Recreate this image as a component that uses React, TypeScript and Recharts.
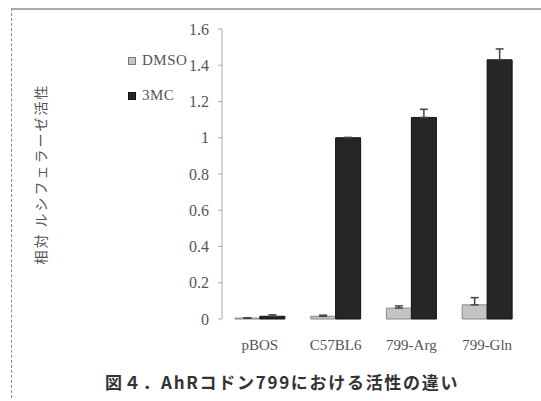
import { Bar, BarChart, ErrorBar, XAxis, YAxis, Legend } from 'recharts'

const categories = ['pBOS', 'C57BL6', '799-Arg', '799-Gln']
const dmso = [0.005, 0.015, 0.06, 0.078]
const dmsoErr = [0.002, 0.006, 0.012, 0.04]
const mc3 = [0.015, 1.0, 1.112, 1.43]
const mc3Err = [0.008, 0.002, 0.045, 0.06]
const yTicks = [0, 0.2, 0.4, 0.6, 0.8, 1, 1.2, 1.4, 1.6]
const boundaryTicks = [0, 1, 2, 3, 4]

const data = categories.map((name, i) => ({
  name,
  DMSO: dmso[i],
  dmsoErr: [0, dmsoErr[i]],
  '3MC': mc3[i],
  mc3Err: [0, mc3Err[i]],
}))

const serif = '"Liberation Serif", "DejaVu Serif", serif'
const jp = '"Noto Sans CJK JP", sans-serif'

const legendItems = [
  { label: 'DMSO', fill: '#c4c4c4', stroke: '#777' },
  { label: '3MC', fill: '#262626', stroke: '#111' },
]

function LegendBox() {
  return (
    <div style={{ fontFamily: serif, fontSize: 15, color: '#555', letterSpacing: 0.5 }}>
      {legendItems.map((it) => (
        <div key={it.label} style={{ display: 'flex', alignItems: 'center', height: 35 }}>
          <span
            style={{
              width: 6,
              height: 6,
              background: it.fill,
              border: `1px solid ${it.stroke}`,
              marginRight: 6,
              display: 'inline-block',
            }}
          />
          {it.label}
        </div>
      ))}
    </div>
  )
}

export default function App() {
  return (
    <div style={{ position: 'absolute', left: 0, top: 0, width: 541, height: 401, background: '#fff' }}>
      <div
        style={{
          position: 'absolute',
          left: 11,
          top: 8,
          width: 530,
          height: 388,
          borderTop: '2px solid #aaa',
          borderLeft: '1px dashed #888',
        }}
      />
      <BarChart
        width={541}
        height={401}
        data={data}
        margin={{ top: 29, right: 16, bottom: 52, left: 0 }}
        barCategoryGap="17%"
        barGap={0}
      >
        <XAxis
          xAxisId="edges"
          type="number"
          domain={[0, 4]}
          ticks={boundaryTicks}
          height={0}
          stroke="#aaa"
          tickSize={5}
          tick={() => <g />}
        />
        <XAxis
          dataKey="name"
          axisLine={false}
          tickLine={false}
          height={30}
          tickMargin={14}
          tick={{ fill: '#555', fontSize: 15, fontFamily: serif }}
        />
        <YAxis
          width={102}
          domain={[0, 1.6]}
          ticks={yTicks}
          interval={0}
          stroke="#aaa"
          tickSize={4}
          tickMargin={9}
          tick={{ fill: '#555', fontSize: 16, fontFamily: serif }}
        />
        <Legend
          layout="vertical"
          verticalAlign="top"
          align="left"
          wrapperStyle={{ left: 128, top: 43, width: 120 }}
          content={() => <LegendBox />}
        />
        <Bar dataKey="DMSO" fill="#c4c4c4" stroke="#888" strokeWidth={1} isAnimationActive={false}>
          <ErrorBar dataKey="dmsoErr" width={4} stroke="#444" strokeWidth={1.5} />
        </Bar>
        <Bar dataKey="3MC" fill="#262626" stroke="#111" strokeWidth={1} isAnimationActive={false}>
          <ErrorBar dataKey="mc3Err" width={4} stroke="#444" strokeWidth={1.5} />
        </Bar>
      </BarChart>
      <div
        style={{
          position: 'absolute',
          left: 40,
          top: 174,
          transform: 'translate(-50%, -50%) rotate(-90deg)',
          fontFamily: jp,
          fontSize: 14,
          color: '#555',
          letterSpacing: 2,
          whiteSpace: 'nowrap',
        }}
      >
        相対 ルシフェラーゼ活性
      </div>
      <div
        style={{
          position: 'absolute',
          left: 105,
          top: 369,
          fontFamily: jp,
          fontWeight: 700,
          fontSize: 17,
          letterSpacing: 1.7,
          color: '#333',
          whiteSpace: 'nowrap',
        }}
      >
        図４．AhRコドン799における活性の違い
      </div>
    </div>
  )
}
